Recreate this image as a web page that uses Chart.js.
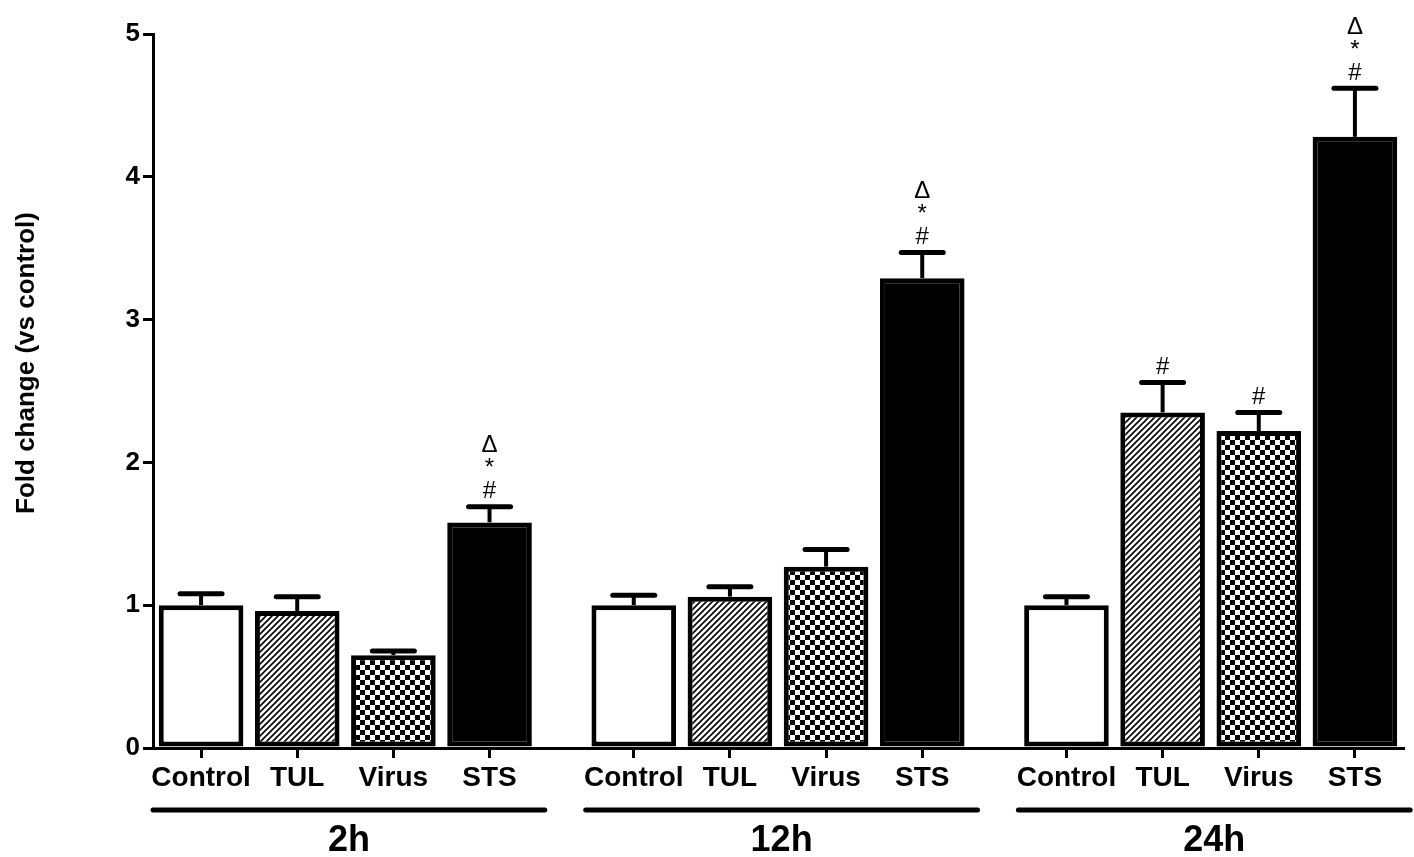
<!DOCTYPE html>
<html>
<head>
    <meta charset="UTF-8">
    <title>Fold change</title>
    <script src="https://cdn.jsdelivr.net/npm/chart.js"></script>
    <style>
        body { margin: 0; background: #fff; }
    </style>
</head>
<body>
    <canvas id="myChart" width="1414" height="857"></canvas>
    <script>
        // groups and treatments
        const timepoints = ['2h', '12h', '24h'];
        const treatments = ['Control', 'TUL', 'Virus', 'STS'];

        // mean fold change per treatment, one array per time point
        const means2h = [1.00, 0.96, 0.65, 1.58];
        const means12h = [1.00, 1.06, 1.27, 3.29];
        const means24h = [1.00, 2.35, 2.22, 4.28];

        // upper error (SEM) per treatment
        const sem2h = [0.08, 0.10, 0.03, 0.11];
        const sem12h = [0.07, 0.07, 0.12, 0.18];
        const sem24h = [0.06, 0.21, 0.13, 0.34];

        // significance marks, bottom to top
        const marks2h = [[], [], [], ['#', '*', '\u0394']];
        const marks12h = [[], [], [], ['#', '*', '\u0394']];
        const marks24h = [[], ['#'], ['#'], ['#', '*', '\u0394']];

        const yTicks = [0, 1, 2, 3, 4, 5];

        // put it all together: 4 bars per group, 1.5 bar gap between groups
        const allMeans = [means2h, means12h, means24h].flat();
        const allSem = [sem2h, sem12h, sem24h].flat();
        const allMarks = [marks2h, marks12h, marks24h].flat();
        const xVals = [];
        timepoints.forEach((t, g) => treatments.forEach((c, i) => xVals.push(g * 9 + i * 2)));
        const xLabels = timepoints.map(() => treatments).flat();

        Chart.defaults.font.family = '"Liberation Sans", Arial, sans-serif';
        Chart.defaults.color = '#000';

        function hatchPattern() {
            const c = document.createElement('canvas');
            c.width = 6; c.height = 6;
            const g = c.getContext('2d');
            g.fillStyle = '#fff';
            g.fillRect(0, 0, 6, 6);
            g.strokeStyle = '#000';
            g.lineWidth = 1.6;
            g.beginPath();
            g.moveTo(-1, 7); g.lineTo(7, -1);
            g.moveTo(-4, 4); g.lineTo(4, -4);
            g.moveTo(2, 10); g.lineTo(10, 2);
            g.stroke();
            return g.createPattern(c, 'repeat');
        }

        function checkerPattern() {
            const c = document.createElement('canvas');
            c.width = 10; c.height = 10;
            const g = c.getContext('2d');
            g.fillStyle = '#fff';
            g.fillRect(0, 0, 10, 10);
            g.fillStyle = '#000';
            g.fillRect(0, 0, 5, 5);
            g.fillRect(5, 5, 5, 5);
            return g.createPattern(c, 'repeat');
        }

        const fillFor = {
            'Control': '#fff',
            'TUL': hatchPattern(),
            'Virus': checkerPattern(),
            'STS': '#000'
        };

        const extras = {
            id: 'extras',
            afterDatasetsDraw(chart) {
                const ctx = chart.ctx;
                const x = chart.scales.x;
                const y = chart.scales.y;
                const area = chart.chartArea;
                ctx.save();
                ctx.strokeStyle = '#000';
                ctx.fillStyle = '#000';

                // error bars + marks
                xVals.forEach((xv, i) => {
                    const px = x.getPixelForValue(xv);
                    const top = y.getPixelForValue(allMeans[i]);
                    const cap = y.getPixelForValue(allMeans[i] + allSem[i]);
                    ctx.lineCap = 'butt';
                    ctx.lineWidth = 4;
                    ctx.beginPath();
                    ctx.moveTo(px, top);
                    ctx.lineTo(px, cap);
                    ctx.stroke();
                    ctx.lineCap = 'round';
                    ctx.lineWidth = 5;
                    ctx.beginPath();
                    ctx.moveTo(px - 21, cap);
                    ctx.lineTo(px + 21, cap);
                    ctx.stroke();

                    ctx.font = '24px "Liberation Sans", Arial, sans-serif';
                    ctx.textAlign = 'center';
                    ctx.textBaseline = 'middle';
                    allMarks[i].forEach((m, k) => {
                        ctx.fillText(m, px, cap - 15 - k * 23);
                    });
                });

                // group underlines and labels
                timepoints.forEach((t, g) => {
                    const x1 = x.getPixelForValue(g * 9 - 1);
                    const x2 = x.getPixelForValue(g * 9 + 6 + 1.15);
                    const ly = area.bottom + 62;
                    ctx.lineCap = 'round';
                    ctx.lineWidth = 5;
                    ctx.beginPath();
                    ctx.moveTo(x1, ly);
                    ctx.lineTo(x2, ly);
                    ctx.stroke();
                    ctx.font = 'bold 36px "Liberation Sans", Arial, sans-serif';
                    ctx.textAlign = 'center';
                    ctx.textBaseline = 'middle';
                    ctx.fillText(t, (x1 + x2) / 2, area.bottom + 93);
                });

                // y title
                ctx.translate(area.left - 126, (area.top + area.bottom) / 2 - 28);
                ctx.rotate(-Math.PI / 2);
                ctx.font = 'bold 26px "Liberation Sans", Arial, sans-serif';
                ctx.textAlign = 'center';
                ctx.textBaseline = 'middle';
                ctx.fillText('Fold change (vs control)', 0, 0);
                ctx.restore();
            }
        };

        const ctx = document.getElementById('myChart').getContext('2d');
        const chart = new Chart(ctx, {
            type: 'bar',
            data: {
                datasets: [{
                    data: xVals.map((xv, i) => ({ x: xv, y: allMeans[i] })),
                    backgroundColor: xLabels.map(l => fillFor[l]),
                    borderColor: '#000',
                    borderWidth: 5,
                    borderSkipped: false,
                    barPercentage: 0.88,
                    categoryPercentage: 1
                }]
            },
            options: {
                responsive: false,
                animation: false,
                layout: { padding: { top: 34, right: 11, left: 0, bottom: 0 } },
                plugins: {
                    legend: { display: false },
                    tooltip: { enabled: false }
                },
                scales: {
                    x: {
                        type: 'linear',
                        min: -1,
                        max: 25,
                        offset: false,
                        afterBuildTicks: axis => { axis.ticks = xVals.map(v => ({ value: v })); },
                        afterFit: axis => { axis.height = 109; },
                        ticks: {
                            autoSkip: false,
                            maxRotation: 0,
                            padding: 3,
                            color: '#000',
                            font: { size: 28, weight: 'bold' },
                            callback: (v, i) => xLabels[i]
                        },
                        grid: {
                            offset: false,
                            drawOnChartArea: false,
                            tickLength: 10,
                            lineWidth: 3,
                            color: '#000'
                        },
                        border: { display: true, width: 3, color: '#000' }
                    },
                    y: {
                        min: 0,
                        max: 5,
                        afterBuildTicks: axis => { axis.ticks = yTicks.map(v => ({ value: v })); },
                        afterFit: axis => { axis.width = 153; },
                        ticks: {
                            padding: 3,
                            color: '#000',
                            font: { size: 26, weight: 'bold' }
                        },
                        grid: {
                            drawOnChartArea: false,
                            tickLength: 10,
                            lineWidth: 3,
                            color: '#000'
                        },
                        border: { display: true, width: 3, color: '#000' }
                    }
                }
            },
            plugins: [extras]
        });
    </script>
</body>
</html>
